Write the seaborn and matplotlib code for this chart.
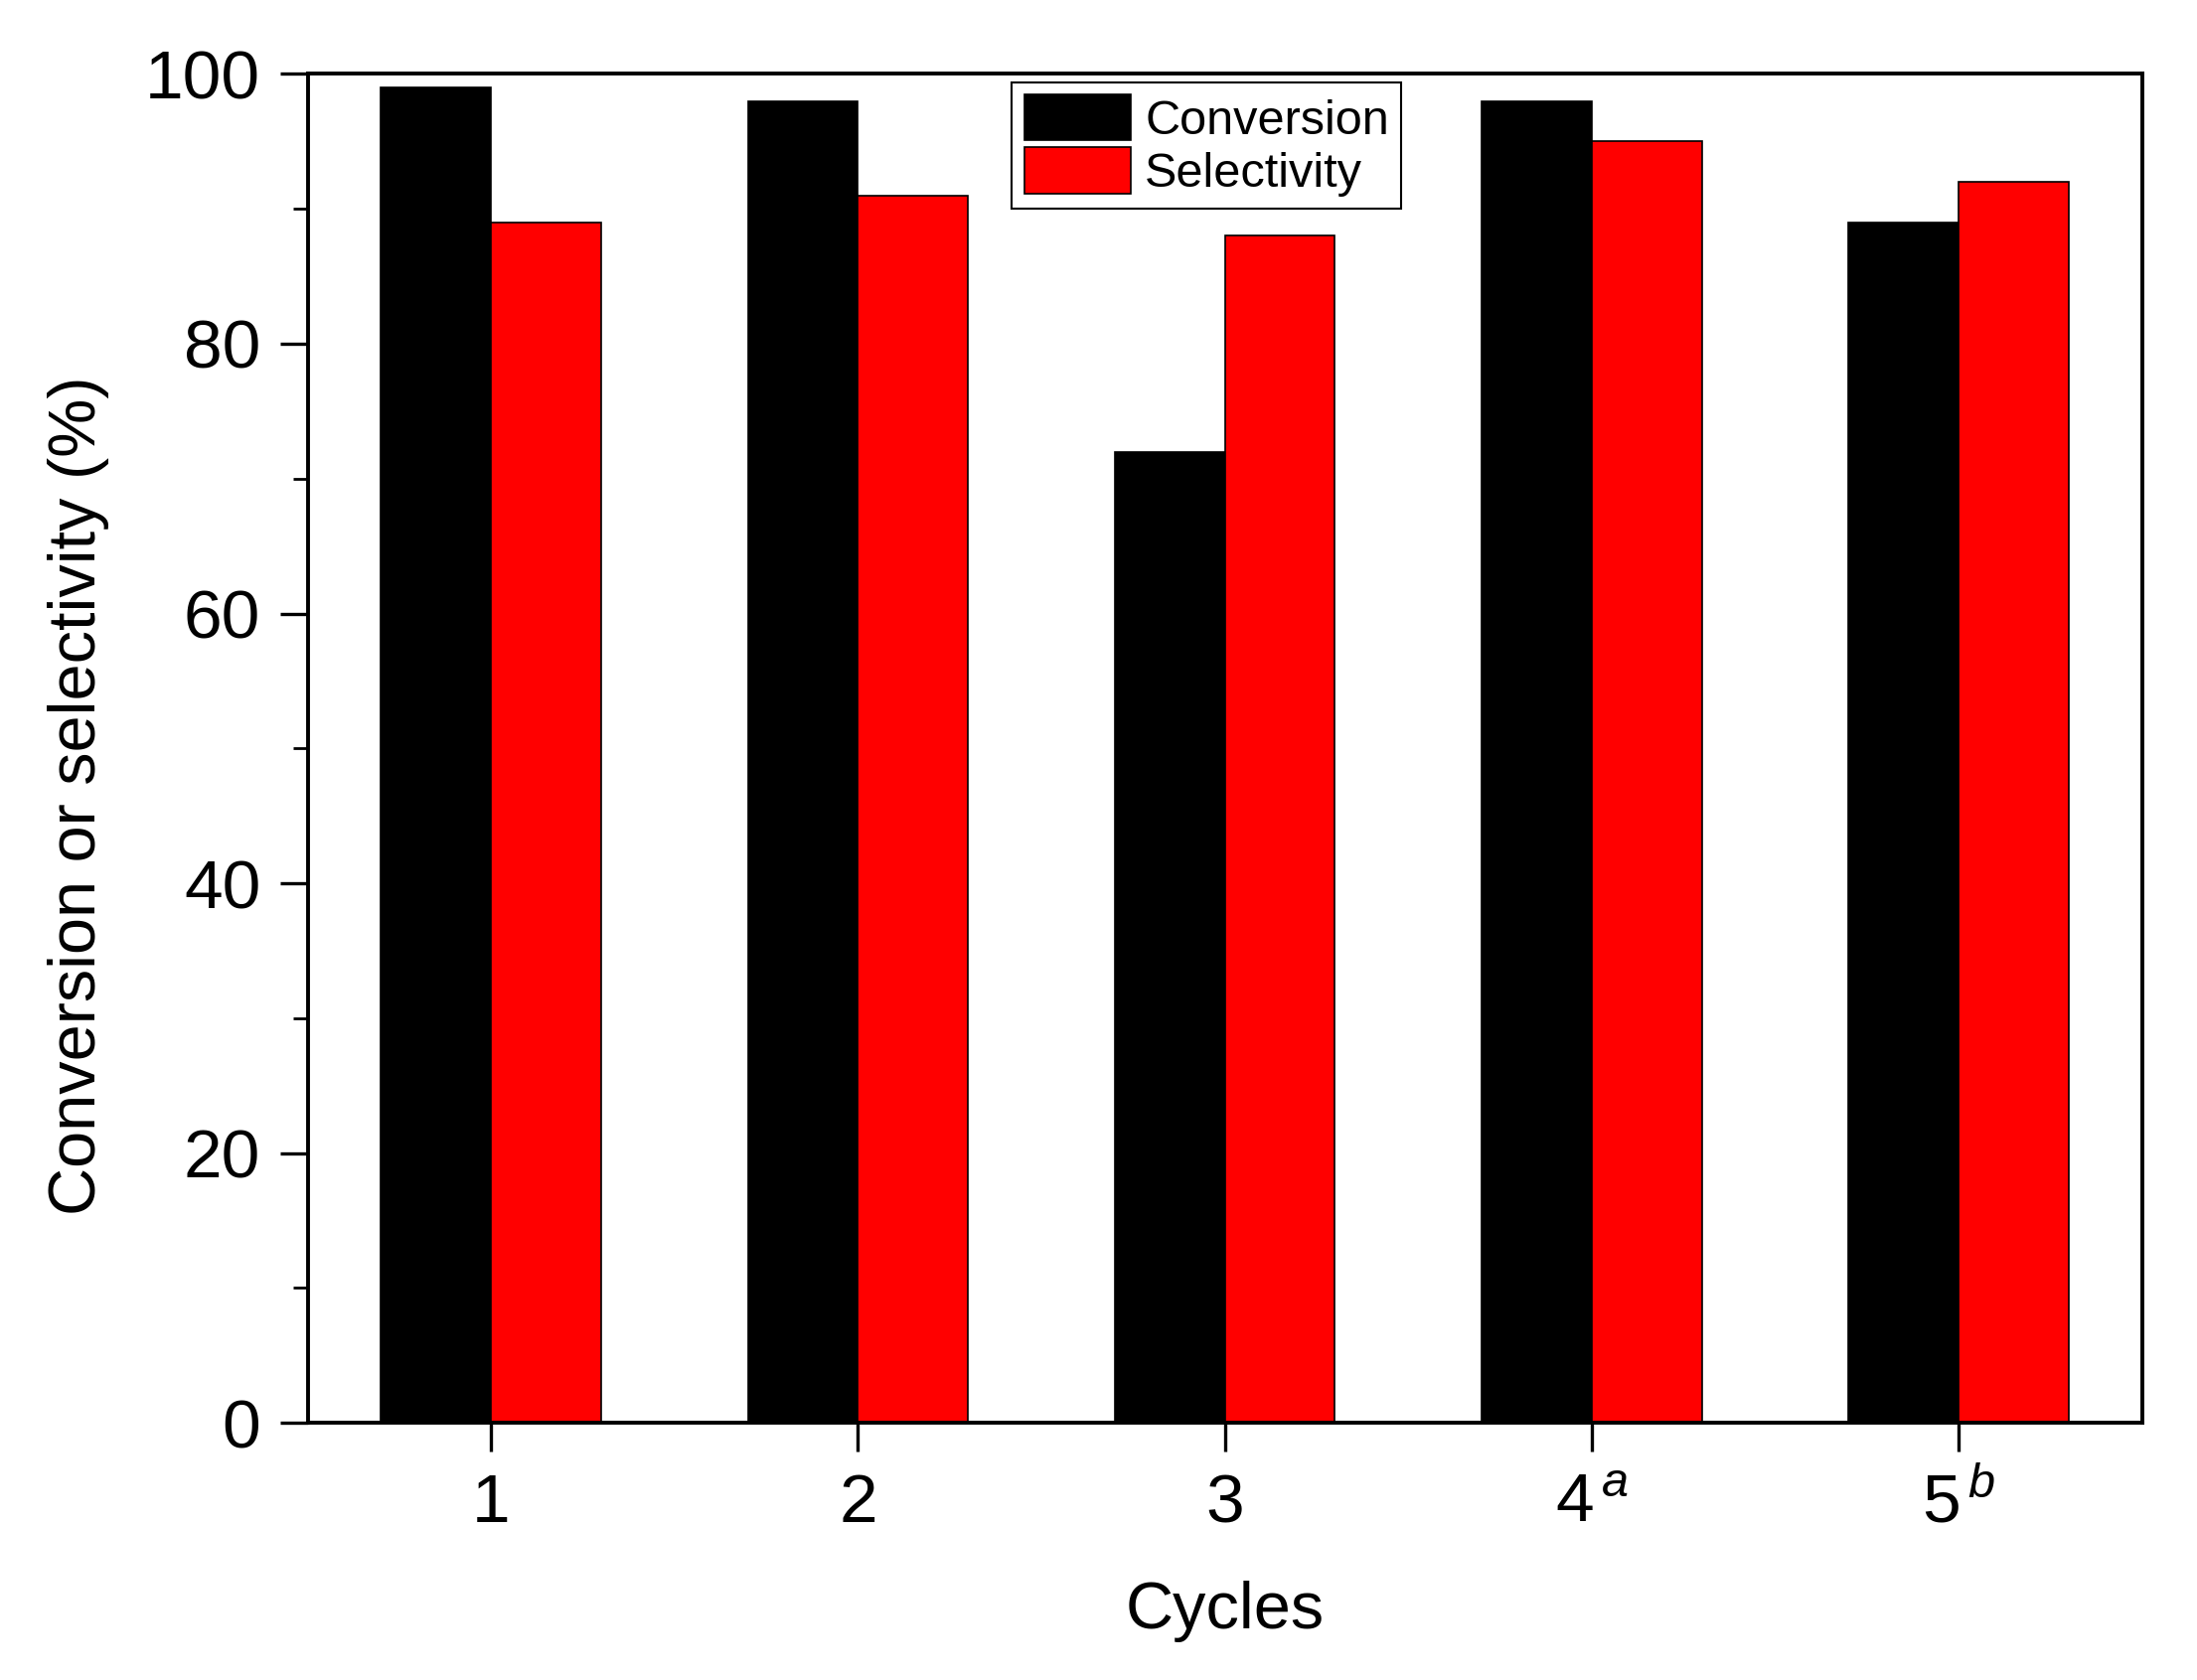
import seaborn as sns
import numpy as np
import pandas as pd
import matplotlib.pyplot as plt
from matplotlib.ticker import MultipleLocator

cycles = ["1", "2", "3", r"4$^{\,a}$", r"5$^{\,b}$"]
conversion = [99, 98, 72, 98, 89]
selectivity = [89, 91, 88, 95, 92]

df = pd.DataFrame({
    "cycle": cycles * 2,
    "value": conversion + selectivity,
    "series": ["Conversion"] * 5 + ["Selectivity"] * 5,
})

sns.set_style("ticks")
plt.rcParams["font.family"] = ["Liberation Sans", "DejaVu Sans"]
plt.rcParams["mathtext.fontset"] = "custom"
plt.rcParams["mathtext.rm"] = "Liberation Sans"
plt.rcParams["mathtext.it"] = "Liberation Sans:italic"
plt.rcParams["text.color"] = "black"
plt.rcParams["axes.labelcolor"] = "black"
plt.rcParams["xtick.color"] = "black"
plt.rcParams["ytick.color"] = "black"

fig, ax = plt.subplots(figsize=(22.11, 16.91), dpi=100)
fig.subplots_adjust(left=0.140, right=0.975, top=0.956, bottom=0.153)

sns.barplot(data=df, x="cycle", y="value", hue="series", order=cycles,
            palette=["black", "#ff0000"], width=0.6, edgecolor="black",
            linewidth=1.2, saturation=1, ax=ax)

ax.set_xlim(-0.5, 4.5)
ax.set_ylim(0, 100)
ax.yaxis.set_major_locator(MultipleLocator(20))
ax.yaxis.set_minor_locator(MultipleLocator(10))

for side in ["left", "right", "top", "bottom"]:
    ax.spines[side].set_visible(True)
    ax.spines[side].set_linewidth(2.8)
    ax.spines[side].set_color("black")

ax.tick_params(axis="y", which="major", length=20, width=2.4, labelsize=50, pad=14)
ax.tick_params(axis="y", which="minor", length=11, width=2.0)
ax.tick_params(axis="x", which="major", length=21, width=2.4, labelsize=50, pad=15)

ax.set_xlabel("Cycles", fontsize=48, labelpad=32)
ax.set_ylabel("Conversion or selectivity (%)", fontsize=48)
ax.yaxis.set_label_coords(-0.108, 0.465)

ax.legend(loc="upper left", bbox_to_anchor=(0.384, 0.994), fontsize=35,
          frameon=True, fancybox=False, edgecolor="black", framealpha=1,
          handlelength=2.2, handleheight=1.1, borderaxespad=0,
          borderpad=0.25, labelspacing=0.08, handletextpad=0.3)
ax.get_legend().get_frame().set_linewidth(1.5)

fig.savefig("out.png", dpi=100)
